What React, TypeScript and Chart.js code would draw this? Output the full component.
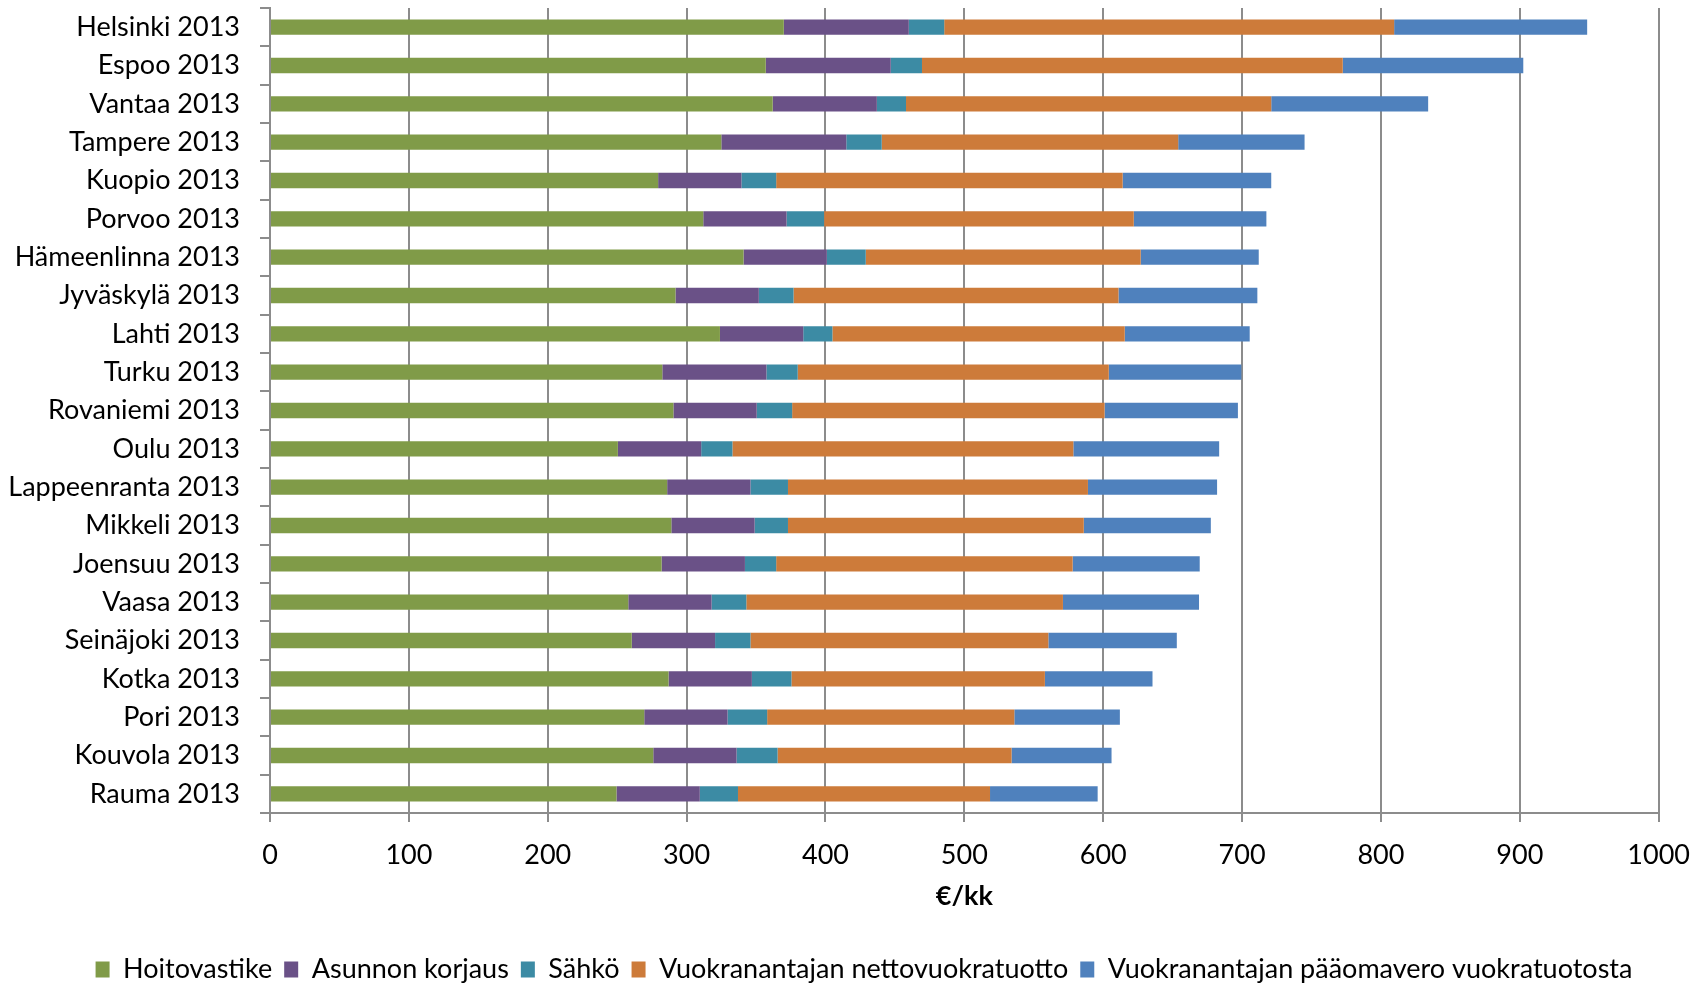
import React, { useEffect, useRef } from "react";
import { Chart, registerables } from "chart.js";

Chart.register(...registerables);

const categories = [
  "Helsinki 2013",
  "Espoo 2013",
  "Vantaa 2013",
  "Tampere 2013",
  "Kuopio 2013",
  "Porvoo 2013",
  "Hämeenlinna 2013",
  "Jyväskylä 2013",
  "Lahti 2013",
  "Turku 2013",
  "Rovaniemi 2013",
  "Oulu 2013",
  "Lappeenranta 2013",
  "Mikkeli 2013",
  "Joensuu 2013",
  "Vaasa 2013",
  "Seinäjoki 2013",
  "Kotka 2013",
  "Pori 2013",
  "Kouvola 2013",
  "Rauma 2013",
];

const hoitovastike = [370, 357, 362, 325, 279.5, 312, 341, 292, 324, 282.5, 290.5, 250.5, 286, 289, 282, 258, 260.5, 287, 269.5, 276, 249.5];
const asunnonKorjaus = [90, 90, 75, 90, 60, 60, 60, 60, 60, 75, 60, 60, 60, 60, 60, 60, 60, 60, 60, 60, 60];
const sahko = [25.5, 22.5, 21, 25.5, 25, 27, 28, 25, 21, 22.5, 25.5, 22.5, 27, 24, 22.5, 25, 25.5, 28.5, 28.5, 29.5, 27.5];
const nettovuokratuotto = [324, 303, 263, 213.5, 249.5, 223, 198, 234, 210.5, 224, 225, 245.5, 216, 213, 213.5, 228, 214.5, 182.5, 178, 168.5, 181.5];
const paaomavero = [139, 130, 113, 91, 107, 95.5, 85, 100, 90, 95.5, 96, 105, 93, 91.5, 91.5, 98, 92.5, 77.5, 76, 72, 77.5];

const seriesNames = [
  "Hoitovastike",
  "Asunnon korjaus",
  "Sähkö",
  "Vuokranantajan nettovuokratuotto",
  "Vuokranantajan pääomavero vuokratuotosta",
];
const seriesColors = ["#809B48", "#6A5187", "#3C8BA4", "#CD7B3A", "#4F81BD"];

const xMin = 0;
const xMax = 1000;
const xStep = 100;
const xTitle = "€/kk";

export default function App() {
  const ref = useRef<HTMLCanvasElement>(null);

  useEffect(() => {
    document.body.style.margin = "0";
    const seriesValues = [hoitovastike, asunnonKorjaus, sahko, nettovuokratuotto, paaomavero];
    const gridColor = "#8c8c8c";
    const fontSize = 27;
    const legendShift = {
      id: "legendShift",
      afterLayout(c: any) {
        const l = c.legend;
        if (l) {
          l.left += 32;
          l.right += 32;
        }
      },
    };
    const chart = new Chart(ref.current as HTMLCanvasElement, {
      type: "bar",
      data: {
        labels: categories,
        datasets: seriesNames.map((name, i) => ({
          label: name,
          data: seriesValues[i],
          backgroundColor: seriesColors[i],
          borderWidth: 0,
          categoryPercentage: 1,
          barPercentage: 0.4,
        })),
      },
      options: {
        indexAxis: "y",
        responsive: false,
        animation: false,
        devicePixelRatio: 1,
        layout: { padding: { left: 0, right: 43, top: 8, bottom: -8 } },
        scales: {
          x: {
            stacked: true,
            min: xMin,
            max: xMax,
            ticks: {
              stepSize: xStep,
              color: "#000",
              padding: 17,
              font: { family: "Lato", size: fontSize },
              callback: (v: any) => String(v),
            },
            grid: {
              color: gridColor,
              lineWidth: 2,
              tickLength: 9,
              drawTicks: true,
            },
            border: { display: true, color: gridColor, width: 2 },
            title: {
              display: true,
              text: xTitle,
              color: "#000",
              font: { family: "Lato", size: fontSize, weight: "bold" },
              padding: { top: 0, bottom: 32 },
            },
            afterFit: (s: any) => {
              s.height = 131;
            },
          },
          y: {
            stacked: true,
            ticks: {
              color: "#000",
              padding: 20,
              autoSkip: false,
              font: { family: "Lato", size: fontSize },
            },
            grid: {
              color: gridColor,
              lineWidth: 2,
              drawOnChartArea: false,
              drawTicks: true,
              tickLength: 10,
              offset: true,
            },
            border: { display: true, color: gridColor, width: 2 },
            afterFit: (s: any) => {
              s.width = 270;
              s.paddingTop = 0;
              s.paddingBottom = 0;
            },
          },
        },
        plugins: {
          legend: {
            position: "bottom",
            labels: {
              boxWidth: 14,
              boxHeight: 16,
              padding: 12,
              color: "#000",
              font: { family: "Lato", size: fontSize },
            },
          },
          tooltip: { enabled: false },
        },
      },
      plugins: [legendShift],
    });
    return () => chart.destroy();
  }, []);

  return (
    <div style={{ width: 1707, height: 985, background: "#fff" }}>
      <canvas ref={ref} width={1707} height={985} style={{ display: "block" }} />
    </div>
  );
}
